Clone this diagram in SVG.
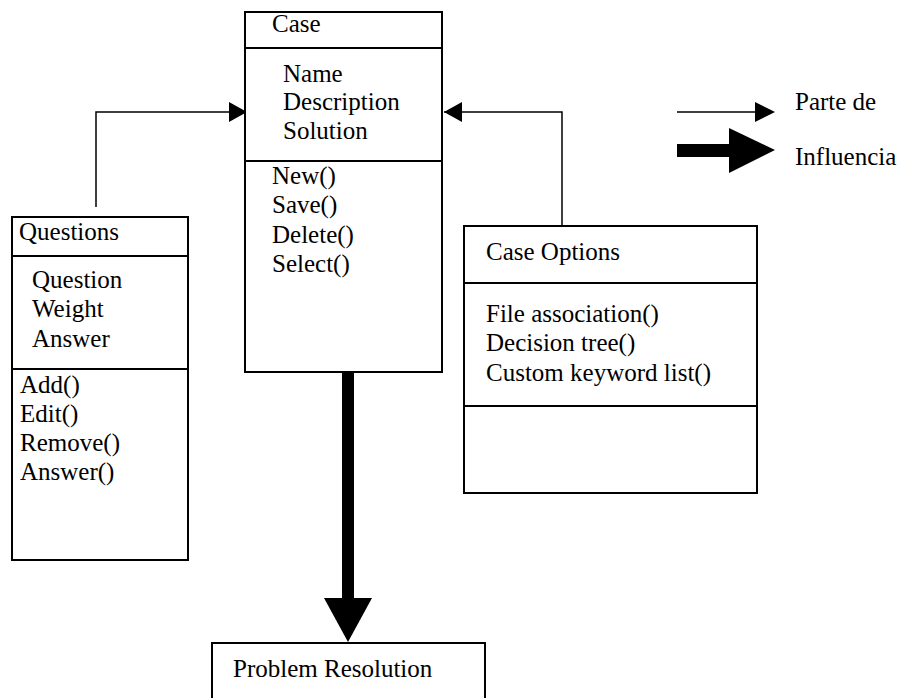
<svg xmlns="http://www.w3.org/2000/svg" width="899" height="698" viewBox="0 0 899 698">
<defs>
<style>
text{font-family:"Liberation Serif","Times New Roman",serif;font-size:25px;fill:#000}
.box{fill:#fff;stroke:#000;stroke-width:2}
.ln{stroke:#000;stroke-width:2;fill:none}
.thin{stroke:#000;stroke-width:1.5;fill:none}
</style>
<marker id="ah" markerWidth="18" markerHeight="20" refX="18" refY="10" orient="auto" markerUnits="userSpaceOnUse">
<path d="M0,0 L18,10 L0,20 Z" fill="#000"/>
</marker>
</defs>
<rect width="899" height="698" fill="#fff"/>

<g id="connectors">
<polyline class="thin" points="96,207 96,112 247,112" marker-end="url(#ah)"/>
<polyline class="thin" points="562,226 562,112 444,112" marker-end="url(#ah)"/>
<rect x="342" y="370" width="12" height="229" fill="#000"/>
<polygon points="324,598 372,598 348,642" fill="#000"/>
</g>

<g id="case">
<rect class="box" x="245" y="12" width="197" height="360"/>
<line class="ln" x1="245" y1="48" x2="442" y2="48"/>
<line class="ln" x1="245" y1="161" x2="442" y2="161"/>
<text x="272" y="32">Case</text>
<text x="283" y="82">Name</text>
<text x="283" y="110">Description</text>
<text x="283" y="139">Solution</text>
<text x="272" y="184">New()</text>
<text x="272" y="213">Save()</text>
<text x="272" y="243">Delete()</text>
<text x="272" y="272">Select()</text>
</g>

<g id="questions">
<rect class="box" x="12" y="217" width="176" height="343"/>
<line class="ln" x1="12" y1="256" x2="188" y2="256"/>
<line class="ln" x1="12" y1="369" x2="188" y2="369"/>
<text x="19" y="240">Questions</text>
<text x="32" y="288">Question</text>
<text x="32" y="317">Weight</text>
<text x="32" y="347">Answer</text>
<text x="20" y="393">Add()</text>
<text x="20" y="422">Edit()</text>
<text x="20" y="451">Remove()</text>
<text x="20" y="480">Answer()</text>
</g>

<g id="case-options">
<rect class="box" x="464" y="226" width="293" height="267"/>
<line class="ln" x1="464" y1="283" x2="757" y2="283"/>
<line class="ln" x1="464" y1="406" x2="757" y2="406"/>
<text x="486" y="260">Case Options</text>
<text x="486" y="322">File association()</text>
<text x="486" y="351">Decision tree()</text>
<text x="486" y="381">Custom keyword list()</text>
</g>

<g id="problem-resolution">
<rect class="box" x="212" y="643" width="273" height="70"/>
<text x="233" y="677">Problem Resolution</text>
</g>

<g id="legend">
<line class="thin" x1="677" y1="112" x2="757" y2="112"/>
<polygon points="755,102 775,112 755,122" fill="#000"/>
<rect x="677" y="144" width="54" height="13" fill="#000"/>
<polygon points="729,128 775,150 729,173" fill="#000"/>
<text x="795" y="110">Parte de</text>
<text x="795" y="165">Influencia</text>
</g>
</svg>
